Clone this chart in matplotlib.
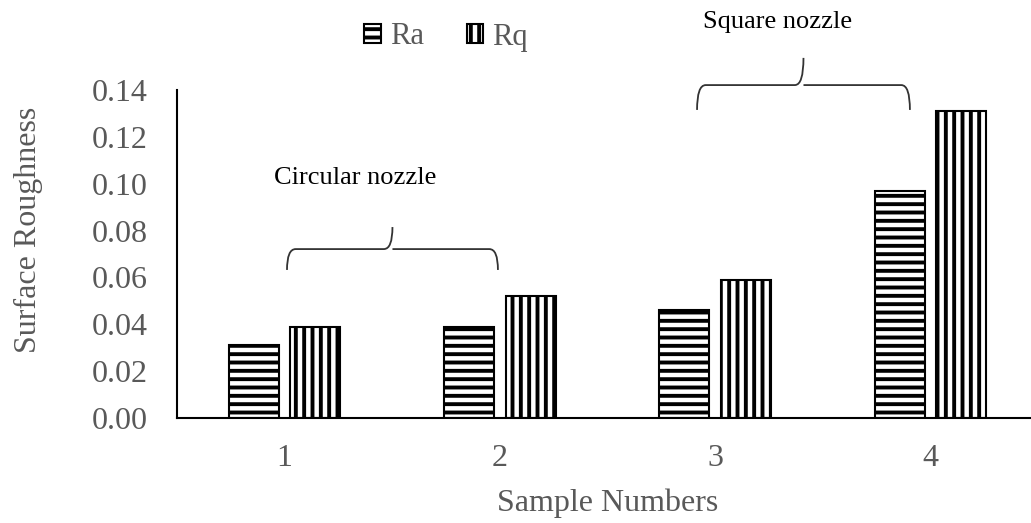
import numpy as np
import matplotlib.pyplot as plt
from matplotlib.patches import Patch, PathPatch
from matplotlib.path import Path
from matplotlib.ticker import FormatStrFormatter

plt.rcParams['font.family'] = ['Liberation Serif', 'DejaVu Serif']
plt.rcParams['hatch.linewidth'] = 2.8

samples = ['1', '2', '3', '4']
ra = [0.031, 0.039, 0.046, 0.097]
rq = [0.039, 0.052, 0.059, 0.131]
yticks = [0.00, 0.02, 0.04, 0.06, 0.08, 0.10, 0.12, 0.14]

grey = '#595959'
fig = plt.figure(figsize=(10.31, 5.23), dpi=100)
ax = fig.add_axes([177 / 1031, 105 / 523, 861 / 1031, 328 / 523])

x = np.arange(1, len(samples) + 1)
w = 0.232
off = 0.143
ax.bar(x - off, ra, w, facecolor='white', edgecolor='black', linewidth=1.5, hatch='--')
ax.bar(x + off, rq, w, facecolor='white', edgecolor='black', linewidth=1.5, hatch='||')

ax.set_xlim(0.5, 4.5)
ax.set_ylim(0, 0.14)
ax.set_xticks(x)
ax.set_xticklabels(samples)
ax.set_yticks(yticks)
ax.yaxis.set_major_formatter(FormatStrFormatter('%.2f'))
ax.tick_params(axis='both', length=0, labelsize=23, labelcolor=grey)
ax.tick_params(axis='y', pad=21)
ax.tick_params(axis='x', pad=19)
for s in ['top', 'right']:
    ax.spines[s].set_visible(False)
for s in ['left', 'bottom']:
    ax.spines[s].set_linewidth(1.5)

ax.set_xlabel('Sample Numbers', fontsize=23, color=grey, labelpad=11)
ax.set_ylabel('Surface Roughness', fontsize=23, color=grey)
ax.yaxis.set_label_coords(-0.156, 0.573)


def brace(x0, x1, y_end, y_bar, y_tip):
    # curly bracket opening downward with a pointed tip in the middle
    xm = (x0 + x1) / 2
    r = 0.04
    verts = [
        (x0, y_end), (x0, y_bar), (x0 + r, y_bar),
        (xm - r, y_bar),
        (xm, y_bar), (xm, y_tip),
        (xm, y_bar), (xm + r, y_bar),
        (x1 - r, y_bar),
        (x1, y_bar), (x1, y_end),
    ]
    codes = [
        Path.MOVETO, Path.CURVE3, Path.CURVE3,
        Path.LINETO,
        Path.CURVE3, Path.CURVE3,
        Path.MOVETO, Path.CURVE3,
        Path.LINETO,
        Path.CURVE3, Path.CURVE3,
    ]
    ax.add_patch(PathPatch(Path(verts, codes), facecolor='none',
                           edgecolor='#333333', linewidth=1.3, clip_on=False))


brace(1.011, 1.991, 0.0632, 0.0721, 0.0815)
brace(2.916, 3.905, 0.1315, 0.1421, 0.1537)

fig.text(355 / 1031, 1 - 178 / 523, 'Circular nozzle', fontsize=19,
         color='black', ha='center', va='center')
fig.text(778 / 1031, 1 - 22 / 523, 'Square nozzle', fontsize=19,
         color='black', ha='center', va='center')

handles = [
    Patch(facecolor='white', edgecolor='black', linewidth=1.5, hatch='--', label='Ra'),
    Patch(facecolor='white', edgecolor='black', linewidth=1.5, hatch='||', label='Rq'),
]
leg = fig.legend(handles=handles, loc='center', bbox_to_anchor=(446 / 1031, 1 - 37 / 523),
                 ncol=2, frameon=False, fontsize=22, handlelength=0.55, handleheight=0.55,
                 handletextpad=0.3, columnspacing=1.4)
for t in leg.get_texts():
    t.set_color(grey)

fig.savefig('out.png', dpi=100)
